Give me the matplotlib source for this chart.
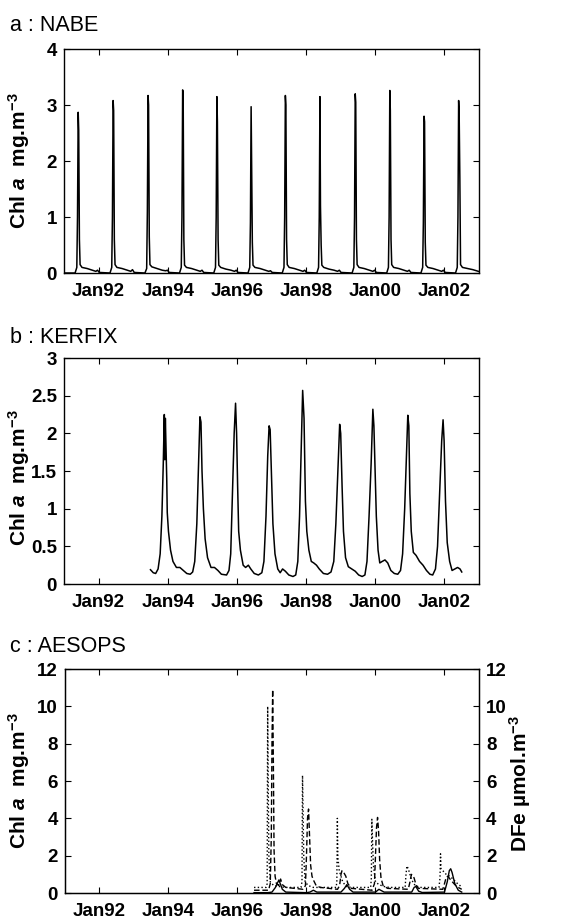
import matplotlib
matplotlib.use("Agg")
import matplotlib.pyplot as plt

plt.rcParams["font.family"] = ["Liberation Sans", "DejaVu Sans"]
plt.rcParams["mathtext.fontset"] = "custom"
plt.rcParams["mathtext.rm"] = "Liberation Sans:bold"
plt.rcParams["mathtext.it"] = "Liberation Sans:italic:bold"
plt.rcParams["mathtext.bf"] = "Liberation Sans:bold"

# time axis in decimal years
XTICKS = [1992, 1994, 1996, 1998, 2000, 2002]
XTICK_LABELS = ["Jan92", "Jan94", "Jan96", "Jan98", "Jan00", "Jan02"]

# ---- a : NABE (Chl a, mg m-3) ----
NABE_T = [
    1991.05, 1991.32, 1991.37, 1991.39, 1991.41, 1991.425, 1991.445, 1991.465, 1991.52, 1991.67, 1991.82, 1991.92, 1991.97, 1992.02,
    1992.33, 1992.38, 1992.40, 1992.42, 1992.435, 1992.455, 1992.475, 1992.53, 1992.68, 1992.83, 1992.93, 1992.98, 1993.03,
    1993.34, 1993.39, 1993.41, 1993.43, 1993.445, 1993.465, 1993.485, 1993.54, 1993.69, 1993.84, 1993.94, 1993.99, 1994.04,
    1994.34, 1994.39, 1994.41, 1994.43, 1994.445, 1994.465, 1994.485, 1994.54, 1994.69, 1994.84, 1994.94, 1994.99, 1995.04,
    1995.33, 1995.38, 1995.40, 1995.42, 1995.435, 1995.455, 1995.475, 1995.53, 1995.68, 1995.83, 1995.93, 1995.98, 1996.03,
    1996.32, 1996.37, 1996.39, 1996.41, 1996.425, 1996.445, 1996.465, 1996.52, 1996.67, 1996.82, 1996.92, 1996.97, 1997.02,
    1997.31, 1997.36, 1997.38, 1997.40, 1997.415, 1997.435, 1997.455, 1997.51, 1997.66, 1997.81, 1997.91, 1997.96, 1998.01,
    1998.31, 1998.36, 1998.38, 1998.40, 1998.415, 1998.435, 1998.455, 1998.51, 1998.66, 1998.81, 1998.91, 1998.96, 1999.01,
    1999.33, 1999.38, 1999.40, 1999.42, 1999.435, 1999.455, 1999.475, 1999.53, 1999.68, 1999.83, 1999.93, 1999.98, 2000.03,
    2000.33, 2000.38, 2000.40, 2000.42, 2000.435, 2000.455, 2000.475, 2000.53, 2000.68, 2000.83, 2000.93, 2000.98, 2001.03,
    2001.32, 2001.37, 2001.39, 2001.41, 2001.425, 2001.445, 2001.465, 2001.52, 2001.67, 2001.82, 2001.92, 2001.97, 2002.02,
    2002.32, 2002.37, 2002.39, 2002.41, 2002.425, 2002.445, 2002.465, 2002.52, 2002.67, 2002.82, 2002.92, 2002.98,
]
NABE_V = [
    0.00, 0.00, 0.10, 1.00, 2.87, 2.55, 0.60, 0.15, 0.10, 0.08, 0.05, 0.03, 0.05, 0.01,
    0.00, 0.10, 1.00, 3.08, 2.90, 0.60, 0.15, 0.10, 0.08, 0.05, 0.03, 0.06, 0.01,
    0.00, 0.08, 1.10, 3.17, 3.00, 0.65, 0.15, 0.11, 0.08, 0.05, 0.04, 0.05, 0.01,
    0.00, 0.10, 1.00, 3.27, 3.20, 0.60, 0.14, 0.10, 0.08, 0.05, 0.03, 0.05, 0.01,
    0.00, 0.10, 1.00, 3.15, 2.70, 0.60, 0.14, 0.10, 0.07, 0.05, 0.03, 0.05, 0.01,
    0.00, 0.10, 0.90, 2.97, 2.00, 0.55, 0.14, 0.10, 0.08, 0.05, 0.03, 0.04, 0.01,
    0.00, 0.10, 1.00, 3.17, 3.00, 0.60, 0.15, 0.10, 0.08, 0.05, 0.03, 0.05, 0.01,
    0.00, 0.10, 1.00, 3.15, 1.20, 0.50, 0.14, 0.10, 0.07, 0.05, 0.03, 0.05, 0.01,
    0.00, 0.10, 1.00, 3.20, 3.05, 0.60, 0.15, 0.10, 0.08, 0.05, 0.03, 0.05, 0.01,
    0.00, 0.10, 1.00, 3.26, 2.90, 0.60, 0.15, 0.10, 0.08, 0.05, 0.03, 0.05, 0.01,
    0.00, 0.10, 0.90, 2.80, 2.70, 0.55, 0.14, 0.10, 0.08, 0.05, 0.03, 0.05, 0.01,
    0.00, 0.10, 1.00, 3.08, 2.85, 1.70, 0.15, 0.10, 0.08, 0.06, 0.04, 0.03,
]

# ---- b : KERFIX (Chl a, mg m-3) ----
KERFIX_T = [
    1993.50, 1993.58, 1993.65, 1993.72, 1993.78, 1993.83, 1993.87, 1993.90, 1993.915, 1993.93,
    1993.95, 1993.97, 1993.985, 1994.02, 1994.08, 1994.15, 1994.25, 1994.35, 1994.45, 1994.55,
    1994.65, 1994.72, 1994.78, 1994.84, 1994.89, 1994.93, 1994.96, 1994.99, 1995.03, 1995.08,
    1995.15, 1995.25, 1995.35, 1995.45, 1995.55, 1995.70, 1995.77, 1995.82, 1995.87, 1995.92,
    1995.96, 1995.99, 1996.02, 1996.05, 1996.10, 1996.18, 1996.25, 1996.33, 1996.40, 1996.50,
    1996.62, 1996.72, 1996.78, 1996.84, 1996.89, 1996.93, 1996.96, 1997.00, 1997.04, 1997.10,
    1997.18, 1997.25, 1997.32, 1997.40, 1997.50, 1997.62, 1997.70, 1997.76, 1997.81, 1997.86,
    1997.90, 1997.94, 1997.98, 1998.02, 1998.08, 1998.15, 1998.22, 1998.30, 1998.38, 1998.50,
    1998.62, 1998.72, 1998.80, 1998.86, 1998.92, 1998.97, 1999.00, 1999.04, 1999.08, 1999.14,
    1999.22, 1999.32, 1999.42, 1999.52, 1999.62, 1999.70, 1999.76, 1999.82, 1999.88, 1999.93,
    1999.96, 1999.99, 2000.03, 2000.08, 2000.13, 2000.20, 2000.28, 2000.36, 2000.45, 2000.55,
    2000.65, 2000.73, 2000.79, 2000.85, 2000.90, 2000.94, 2000.97, 2001.00, 2001.04, 2001.10,
    2001.18, 2001.28, 2001.38, 2001.48, 2001.58, 2001.66, 2001.74, 2001.80, 2001.86, 2001.92,
    2001.96, 2001.99, 2002.03, 2002.08, 2002.15, 2002.22, 2002.30, 2002.38, 2002.45, 2002.50,
]
KERFIX_V = [
    0.19, 0.15, 0.14, 0.20, 0.40, 0.90, 1.60, 2.25, 1.65, 2.20,
    1.80, 1.40, 0.95, 0.70, 0.45, 0.30, 0.22, 0.22, 0.18, 0.14,
    0.13, 0.16, 0.30, 0.80, 1.60, 2.22, 2.15, 1.50, 1.00, 0.60,
    0.35, 0.22, 0.22, 0.18, 0.13, 0.12, 0.18, 0.40, 1.20, 2.00,
    2.40, 2.00, 1.30, 0.70, 0.45, 0.25, 0.22, 0.25, 0.20, 0.14,
    0.12, 0.15, 0.30, 0.90, 1.70, 2.10, 2.05, 1.40, 0.80, 0.40,
    0.20, 0.15, 0.20, 0.17, 0.12, 0.10, 0.12, 0.30, 0.90, 1.80,
    2.57, 2.20, 1.10, 0.70, 0.45, 0.30, 0.28, 0.25, 0.20, 0.14,
    0.13, 0.16, 0.30, 0.80, 1.50, 2.12, 2.00, 1.30, 0.70, 0.35,
    0.23, 0.20, 0.17, 0.12, 0.10, 0.12, 0.30, 0.90, 1.60, 2.32,
    2.10, 1.60, 0.90, 0.45, 0.28, 0.30, 0.32, 0.28, 0.18, 0.14,
    0.13, 0.18, 0.40, 1.00, 1.70, 2.24, 2.10, 1.20, 0.70, 0.42,
    0.38, 0.30, 0.25, 0.18, 0.13, 0.12, 0.20, 0.50, 1.20, 1.90,
    2.18, 1.90, 1.10, 0.55, 0.30, 0.18, 0.20, 0.22, 0.20, 0.16,
]

# ---- c : AESOPS ----
# dotted series
AES_DOT_T = [
    1996.48, 1996.83, 1996.86, 1996.875, 1996.89, 1996.91, 1996.95, 1997.05, 1997.20, 1997.40,
    1997.84, 1997.87, 1997.885, 1997.90, 1997.92, 1997.96, 1998.05, 1998.20,
    1998.86, 1998.88, 1998.895, 1998.91, 1998.95, 1999.00, 1999.05, 1999.15, 1999.30,
    1999.86, 1999.88, 1999.895, 1999.91, 1999.94, 2000.00, 2000.10, 2000.25, 2000.40,
    2000.86, 2000.88, 2000.91, 2000.95, 2001.00, 2001.05, 2001.15, 2001.30,
    2001.84, 2001.87, 2001.885, 2001.90, 2001.95, 2002.05, 2002.15, 2002.25, 2002.35, 2002.45, 2002.50,
]
AES_DOT_V = [
    0.30, 0.30, 0.50, 10.0, 6.00, 2.00, 0.60, 0.40, 0.35, 0.30,
    0.30, 0.60, 6.30, 4.50, 2.00, 0.60, 0.40, 0.30,
    0.30, 0.60, 4.00, 1.90, 1.20, 0.90, 0.60, 0.35, 0.30,
    0.30, 0.80, 3.95, 3.00, 1.50, 0.60, 0.45, 0.35, 0.30,
    0.30, 0.90, 1.45, 1.30, 1.00, 0.70, 0.40, 0.30,
    0.30, 0.80, 2.10, 1.30, 1.20, 1.00, 0.90, 0.75, 0.55, 0.40, 0.30,
]
# dashed series
AES_DASH_T = [
    1996.48, 1996.90, 1996.95, 1996.98, 1997.00, 1997.02, 1997.04, 1997.06, 1997.09, 1997.13,
    1997.20, 1997.25, 1997.30, 1997.40, 1997.90, 1997.97, 1998.00, 1998.03, 1998.06, 1998.09,
    1998.12, 1998.16, 1998.20, 1998.28, 1998.40, 1998.90, 1998.96, 1999.00, 1999.03, 1999.08,
    1999.14, 1999.20, 1999.30, 1999.90, 1999.97, 2000.00, 2000.03, 2000.06, 2000.09, 2000.12,
    2000.16, 2000.22, 2000.35, 2000.95, 2001.00, 2001.04, 2001.08, 2001.12, 2001.18, 2001.25,
    2001.95, 2002.00, 2002.05, 2002.10, 2002.18, 2002.30, 2002.40, 2002.50,
]
AES_DASH_V = [
    0.15, 0.15, 0.50, 3.00, 8.00, 10.9, 7.00, 2.30, 0.90, 0.50,
    0.40, 0.75, 0.45, 0.30, 0.20, 0.40, 2.00, 4.00, 4.50, 3.00,
    1.50, 0.90, 0.70, 0.40, 0.30, 0.20, 0.40, 1.00, 1.20, 1.10,
    0.90, 0.50, 0.25, 0.15, 0.50, 2.00, 3.50, 4.05, 3.30, 1.80,
    0.80, 0.40, 0.25, 0.20, 0.60, 1.00, 0.95, 0.80, 0.40, 0.25,
    0.20, 0.50, 0.85, 0.90, 0.70, 0.45, 0.30, 0.20,
]
# solid series
AES_SOLID_T = [
    1996.48, 1996.88, 1997.00, 1997.10, 1997.20, 1997.30, 1997.40, 1998.00, 1998.10, 1998.20,
    1998.30, 1999.00, 1999.10, 1999.17, 1999.25, 1999.35, 2000.00, 2000.10, 2000.15, 2000.25,
    2001.05, 2001.12, 2001.17, 2001.25, 2001.35, 2002.00, 2002.08, 2002.14, 2002.18, 2002.22,
    2002.30, 2002.40, 2002.50,
]
AES_SOLID_V = [
    0.02, 0.02, 0.05, 0.30, 0.70, 0.20, 0.05, 0.02, 0.05, 0.15,
    0.05, 0.05, 0.25, 0.45, 0.20, 0.05, 0.05, 0.20, 0.15, 0.05,
    0.05, 0.30, 0.35, 0.10, 0.03, 0.05, 0.60, 1.20, 1.30, 1.10,
    0.50, 0.15, 0.05,
]

YLABEL = r"Chl $\mathit{a}$  mg.m$^{\mathrm{-3}}$"
TICK_FONT = dict(fontsize=13.5, fontweight="bold")


def style_axes(ax, yticks, yticklabels, ylim):
    ax.set_xlim(1991.0, 2003.0)
    ax.set_ylim(*ylim)
    ax.set_xticks(XTICKS)
    ax.set_xticklabels(XTICK_LABELS, **TICK_FONT)
    ax.set_yticks(yticks)
    ax.set_yticklabels(yticklabels, **TICK_FONT)
    ax.tick_params(axis="both", direction="in", length=4, width=0.8,
                   top=True, right=True)
    ax.tick_params(axis="x", pad=7)
    ax.tick_params(axis="y", pad=5)
    for spine in ax.spines.values():
        spine.set_linewidth(1.0)
    ax.set_ylabel(YLABEL, fontsize=15, fontweight="bold")


fig = plt.figure(figsize=(5.69, 9.18), dpi=100)

left, width = 0.1125, 0.7294

# panel a
ax_a = fig.add_axes([left, 0.7026, width, 0.2440])
ax_a.plot(NABE_T, NABE_V, color="black", linewidth=1.1)
style_axes(ax_a, [0, 1, 2, 3, 4], ["0", "1", "2", "3", "4"], (0, 4))
ax_a.yaxis.set_label_coords(-0.077, 0.5)
fig.text(10 / 569, 1 - 31 / 918, "a : NABE", fontsize=15.5, va="baseline")

# panel b
ax_b = fig.add_axes([left, 0.3638, width, 0.2462])
ax_b.plot(KERFIX_T, KERFIX_V, color="black", linewidth=1.1)
style_axes(ax_b, [0, 0.5, 1, 1.5, 2, 2.5, 3],
           ["0", "0.5", "1", "1.5", "2", "2.5", "3"], (0, 3))
ax_b.yaxis.set_label_coords(-0.077, 0.47)
fig.text(10 / 569, 1 - 343 / 918, "b : KERFIX", fontsize=15.5, va="baseline")

# panel c
ax_c = fig.add_axes([0.1142, 0.0272, 0.7276, 0.2440])
ax_c.plot(AES_DOT_T, AES_DOT_V, color="black", linewidth=1.0, linestyle=":")
ax_c.plot(AES_DASH_T, AES_DASH_V, color="black", linewidth=1.0,
          linestyle=(0, (4, 2)))
ax_c.plot(AES_SOLID_T, AES_SOLID_V, color="black", linewidth=1.0)
c_ticks = [0, 2, 4, 6, 8, 10, 12]
c_labels = [str(v) for v in c_ticks]
style_axes(ax_c, c_ticks, c_labels, (0, 12))
ax_c.yaxis.set_label_coords(-0.08, 0.5)

ax_c2 = ax_c.twinx()
ax_c2.set_ylim(0, 12)
ax_c2.set_yticks(c_ticks)
ax_c2.set_yticklabels(c_labels, **TICK_FONT)
ax_c2.tick_params(axis="y", direction="in", length=4, width=0.8, pad=5)
ax_c2.set_ylabel(r"DFe µmol.m$^{\mathrm{-3}}$", fontsize=15, fontweight="bold")
ax_c2.yaxis.set_label_coords(1.067, 0.49)
fig.text(10 / 569, 1 - 652 / 918, "c : AESOPS", fontsize=15.5, va="baseline")

fig.savefig("out.png", dpi=100)
